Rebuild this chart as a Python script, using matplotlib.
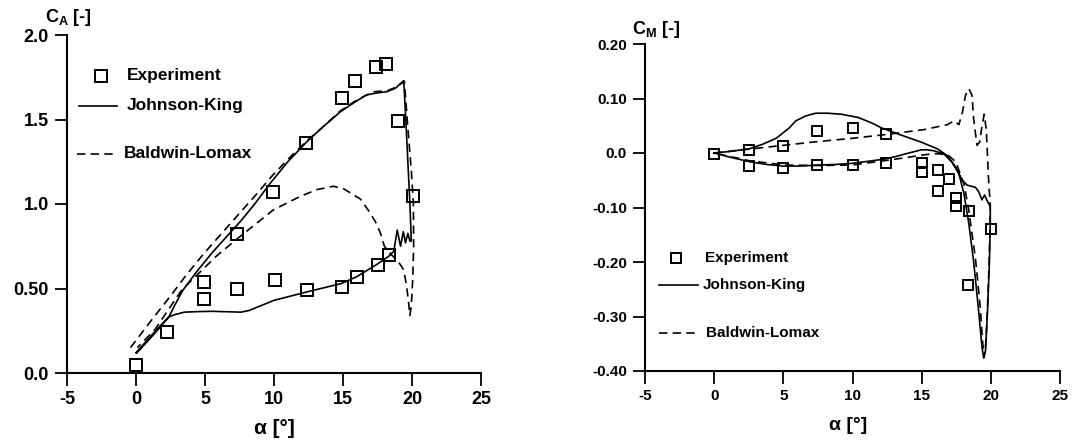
import matplotlib
matplotlib.use("Agg")
import matplotlib.pyplot as plt
from matplotlib.lines import Line2D

plt.rcParams["font.family"] = ["Liberation Sans", "DejaVu Sans"]
plt.rcParams["font.weight"] = "bold"
plt.rcParams["axes.unicode_minus"] = False
plt.rcParams["mathtext.fontset"] = "custom"
plt.rcParams["mathtext.rm"] = "Liberation Sans:bold"
plt.rcParams["mathtext.default"] = "regular"

# ---- lift coefficient C_A ----
exp_alpha_ca = [0.0, 2.25, 4.9, 4.9, 7.35, 7.35, 9.9, 10.05, 12.35, 12.4,
                14.9, 14.95, 15.9, 16.0, 17.4, 17.55, 18.1, 18.3, 18.95, 20.05]
exp_ca = [0.05, 0.24, 0.54, 0.44, 0.50, 0.82, 1.07, 0.55, 1.36, 0.49,
          1.63, 0.51, 1.73, 0.57, 1.81, 0.64, 1.83, 0.70, 1.49, 1.05]

jk_alpha_ca = [0.0, 1.2, 2.4, 2.8, 3.4, 4.4, 5.5, 6.6, 7.6, 8.6, 9.7, 11.0, 12.4,
               13.6, 14.8, 15.8, 16.7, 17.3, 18.2, 18.8, 19.4,
               19.55, 19.7, 19.85, 19.95,
               19.85, 19.7, 19.53, 19.37, 19.17, 18.93, 18.68,
               18.3, 17.5, 16.0, 14.9, 12.4, 10.0, 8.2, 7.6, 6.8, 5.5, 4.4,
               3.5, 2.8, 2.4, 1.2, 0.05]
jk_ca = [0.12, 0.23, 0.335, 0.40, 0.49, 0.60, 0.71, 0.81, 0.90, 1.00, 1.12, 1.25, 1.37,
         1.46, 1.545, 1.60, 1.645, 1.655, 1.665, 1.685, 1.73,
         1.50, 1.25, 1.00, 0.78,
         0.78, 0.826, 0.77, 0.836, 0.75, 0.846, 0.72,
         0.69, 0.645, 0.57, 0.53, 0.48, 0.43, 0.37, 0.36, 0.362, 0.365, 0.363,
         0.36, 0.345, 0.333, 0.22, 0.118]

bl_alpha_ca = [-0.4, 1.0, 2.4, 3.6, 4.9, 6.2, 7.5, 8.7, 9.9, 11.2, 12.4, 13.6,
               14.8, 15.8, 16.7, 17.3, 18.2, 18.8, 19.45,
               19.7, 19.95, 20.1, 20.12, 20.05, 19.95, 19.85,
               19.75, 19.6, 19.4, 19.0, 18.5, 18.0, 17.7, 17.35, 16.86, 16.25,
               15.05, 14.3, 13.1, 11.9, 9.95, 7.5, 5.8, 3.3, 1.4, 0.1]
bl_ca = [0.15, 0.30, 0.445, 0.575, 0.705, 0.825, 0.945, 1.055, 1.17, 1.28, 1.375, 1.46,
         1.55, 1.605, 1.645, 1.665, 1.67, 1.69, 1.725,
         1.45, 1.20, 1.00, 0.75, 0.55, 0.40, 0.34,
         0.42, 0.52, 0.61, 0.66, 0.70, 0.75, 0.83, 0.895, 0.96, 1.03,
         1.09, 1.105, 1.085, 1.045, 0.965, 0.805, 0.69, 0.49, 0.26, 0.15]

# ---- moment coefficient C_M ----
exp_alpha_cm = [0.0, 2.53, 2.53, 4.95, 5.0, 7.4, 7.45, 10.0, 10.0, 12.45, 12.45,
                15.0, 15.0, 16.2, 16.2, 17.0, 17.46, 17.46, 18.4, 18.36, 19.98]
exp_cm = [-0.002, 0.005, -0.024, 0.013, -0.027, 0.041, -0.022, 0.046, -0.022, 0.034, -0.019,
          -0.018, -0.035, -0.032, -0.070, -0.047, -0.083, -0.097, -0.106, -0.243, -0.140]

jk_alpha_cm = [0.0, 1.2, 2.57, 3.8, 4.96, 6.2, 7.57, 8.8, 9.96, 11.2, 12.34, 13.2, 14.0,
               14.96, 15.4, 15.9, 16.62, 17.2, 17.69, 18.05, 18.4, 18.76, 19.12, 19.36,
               19.48, 19.62, 19.76, 19.9, 19.96, 19.96,
               19.76, 19.55, 19.36, 19.12, 18.89, 18.29, 17.93, 17.46, 16.86, 16.14,
               14.96, 13.5, 12.1, 11.4, 10.43, 9.24, 8.2, 7.34, 6.62, 5.9, 5.43,
               4.48, 3.5, 2.57, 1.2, 0.0]
jk_cm = [0.0, -0.008, -0.016, -0.021, -0.024, -0.024, -0.022, -0.021, -0.019, -0.015, -0.011, -0.006, -0.0005,
         0.0057, 0.006, 0.004, -0.002, -0.017, -0.038, -0.074, -0.128, -0.2, -0.29, -0.356,
         -0.376, -0.362, -0.29, -0.2, -0.128, -0.098,
         -0.089, -0.077, -0.086, -0.071, -0.063, -0.059, -0.05, -0.026, -0.005, 0.0076,
         0.020, 0.033, 0.046, 0.055, 0.065, 0.071, 0.073, 0.073, 0.068, 0.059, 0.046,
         0.027, 0.016, 0.008, 0.003, 0.0]

bl_alpha_cm = [0.0, 2.5, 4.96, 7.5, 10.0, 12.45, 15.19, 16.86, 17.34, 17.69, 17.95, 18.17,
               18.41, 18.64, 18.76, 19.0, 19.19, 19.36, 19.52, 19.67, 19.84, 19.96,
               19.93, 19.85, 19.75, 19.63, 19.52,
               19.4, 19.24, 18.89, 18.4, 18.05, 17.46, 16.86, 15.9, 15.0, 14.0, 12.34,
               10.0, 7.5, 5.0, 2.5, 0.0]
bl_cm = [0.0, 0.007, 0.014, 0.021, 0.027, 0.034, 0.043, 0.052, 0.059, 0.052, 0.075, 0.106,
         0.118, 0.106, 0.062, 0.014, 0.02, 0.049, 0.071, 0.043, -0.05, -0.095,
         -0.15, -0.22, -0.29, -0.35, -0.375,
         -0.345, -0.284, -0.194, -0.104, -0.056, -0.016, -0.003, -0.001, -0.004, -0.008, -0.014,
         -0.022, -0.023, -0.022, -0.014, 0.0]

x_ticks = [-5, 0, 5, 10, 15, 20, 25]
ca_ticks = [0.0, 0.5, 1.0, 1.5, 2.0]
ca_tick_labels = ["0.0", "0.50", "1.0", "1.5", "2.0"]
cm_ticks = [-0.4, -0.3, -0.2, -0.1, 0.0, 0.1, 0.2]
cm_tick_labels = ["-0.40", "-0.30", "-0.20", "-0.10", "0.0", "0.10", "0.20"]

W, H = 1079, 443
fig = plt.figure(figsize=(W / 100, H / 100), dpi=100)
ax1 = fig.add_axes([67 / W, 1 - 373 / H, (481 - 67) / W, (373 - 35) / H])
ax2 = fig.add_axes([645 / W, 1 - 371 / H, (1060 - 645) / W, (371 - 44) / H])

LW = 1.2
DASH = (5, 3.2)


def style_axes(ax, yticks, ylabels, ylim, fs_tick, fs_lab):
    ax.set_xlim(-5, 25)
    ax.set_ylim(*ylim)
    for s in ("top", "right"):
        ax.spines[s].set_visible(False)
    for s in ("left", "bottom"):
        ax.spines[s].set_linewidth(1.5)
    ax.set_xticks(x_ticks)
    ax.set_xticklabels([str(t) for t in x_ticks])
    ax.set_yticks(yticks)
    ax.set_yticklabels(ylabels)
    ax.tick_params(direction="out", length=9, width=1.3, labelsize=fs_tick, pad=4)
    for lab in ax.get_xticklabels() + ax.get_yticklabels():
        lab.set_fontweight("bold")
    ax.set_xlabel("α [°]", fontsize=fs_lab, fontweight="bold")


def manual_legend(ax, rows, fs, ms):
    # rows: (kind, x0, x1, y, text_x) in axes fractions
    kinds = {"exp": "Experiment", "jk": "Johnson-King", "bl": "Baldwin-Lomax"}
    for kind, x0, x1, y, tx in rows:
        if kind == "exp":
            ax.add_line(Line2D([x0], [y], transform=ax.transAxes, marker="s", ms=ms,
                               mfc="white", mec="black", mew=1.4, ls="none", clip_on=False))
        else:
            ls = "-" if kind == "jk" else (0, DASH)
            ax.add_line(Line2D([x0, x1], [y, y], transform=ax.transAxes, color="black",
                               lw=LW, ls=ls, clip_on=False))
        ax.text(tx, y, kinds[kind], transform=ax.transAxes, fontsize=fs,
                fontweight="bold", va="center", ha="left")


# left panel
ax1.plot(jk_alpha_ca, jk_ca, color="black", lw=LW, zorder=3)
ax1.plot(bl_alpha_ca, bl_ca, color="black", lw=LW, ls=(0, DASH), zorder=3)
ax1.plot(exp_alpha_ca, exp_ca, ls="none", marker="s", ms=9, mfc="none", mec="black",
         mew=1.4, zorder=4)
style_axes(ax1, ca_ticks, ca_tick_labels, (0, 2.0), 13, 15)
ax1.xaxis.set_label_coords(0.5, -0.135)
manual_legend(ax1, [("exp", 0.081, None, 0.879, 0.145),
                    ("jk", 0.029, 0.121, 0.790, 0.145),
                    ("bl", 0.024, 0.121, 0.648, 0.138)], 12.5, 9)

# right panel
ax2.plot(jk_alpha_cm, jk_cm, color="black", lw=LW, zorder=3)
ax2.plot(bl_alpha_cm, bl_cm, color="black", lw=LW, ls=(0, DASH), zorder=3)
ax2.plot(exp_alpha_cm, exp_cm, ls="none", marker="s", ms=7, mfc="none", mec="black",
         mew=1.4, zorder=4)
style_axes(ax2, cm_ticks, cm_tick_labels, (-0.4, 0.2), 11, 14)
ax2.xaxis.set_label_coords(0.49, -0.14)
manual_legend(ax2, [("exp", 0.075, None, 0.346, 0.145),
                    ("jk", 0.034, 0.128, 0.263, 0.140),
                    ("bl", 0.034, 0.128, 0.116, 0.147)], 11, 7)

fig.text(45 / W, 1 - 17 / H, r"$\mathregular{C_A}$ [-]", fontsize=13, fontweight="bold",
         ha="left", va="center")
fig.text(632 / W, 1 - 29 / H, r"$\mathregular{C_M}$ [-]", fontsize=13, fontweight="bold",
         ha="left", va="center")

fig.savefig("out.png", dpi=100)
